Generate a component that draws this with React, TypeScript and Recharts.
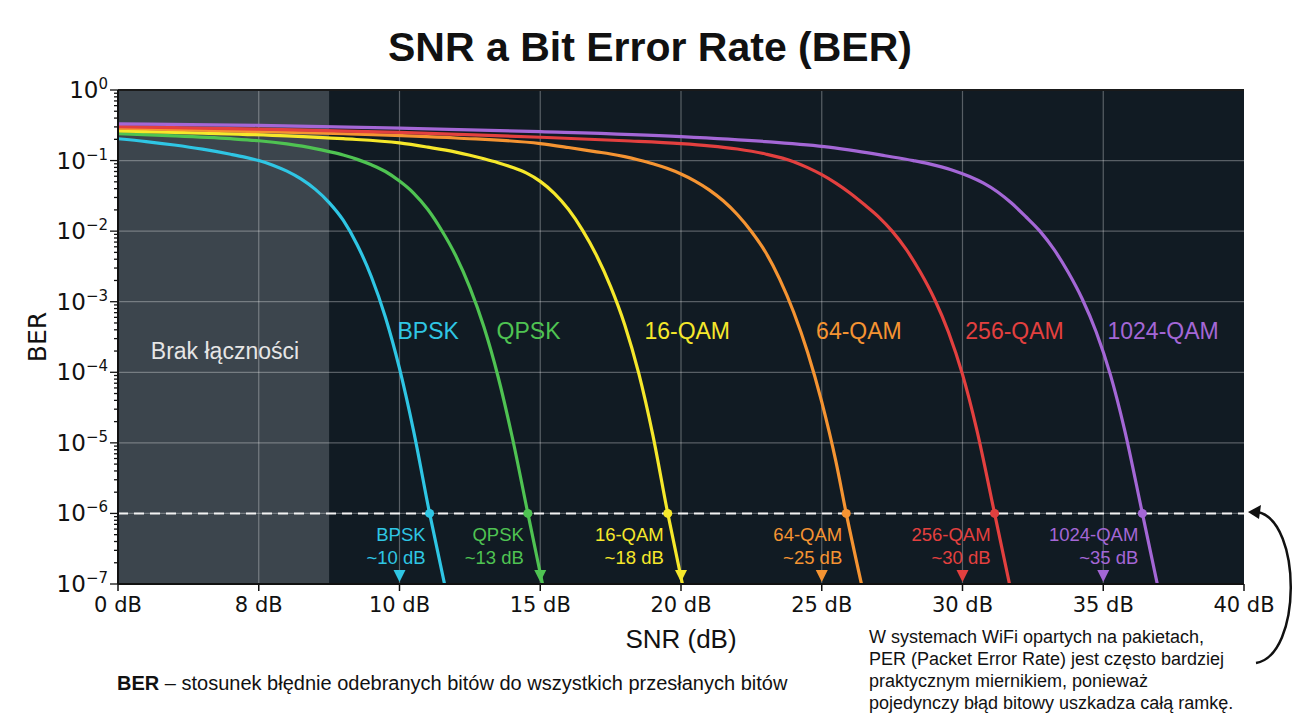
import * as React from 'react';
import { LineChart, Line, XAxis, YAxis, ReferenceLine, ReferenceArea, ReferenceDot } from 'recharts';

// x axis (SNR, dB) ticks and the labels printed under them
const snrTicks = [0, 5, 10, 15, 20, 25, 30, 35, 40];
const snrTickLabels = ['0 dB', '8 dB', '10 dB', '15 dB', '20 dB', '25 dB', '30 dB', '35 dB', '40 dB'];

// y axis decades (log scale)
const berDecades = [1, 1e-1, 1e-2, 1e-3, 1e-4, 1e-5, 1e-6, 1e-7];
const berMinor: number[] = [];
berDecades.slice(1).forEach((d) => {
  for (let k = 2; k <= 9; k++) berMinor.push(d * k);
});
const berTicks = [...berDecades, ...berMinor];

const modNames = ['BPSK', 'QPSK', '16-QAM', '64-QAM', '256-QAM', '1024-QAM'];
const modColors = ['#2fc6e4', '#4fc352', '#f6e82b', '#f59432', '#e3403f', '#a467d6'];

// curves: SNR (dB) -> BER
const bpskSnr = [0, 1, 2, 3, 4, 4.5, 5, 5.5, 6, 6.5, 7, 7.5, 8, 8.5, 9, 9.5, 10, 10.5, 11.07, 11.6];
const bpskBer = [0.204, 0.186, 0.166, 0.145, 0.123, 0.112, 0.1, 0.0861, 0.0708, 0.055, 0.0394, 0.0254, 0.0143, 6.38e-3, 2.26e-3, 6.03e-4, 1.135e-4, 1.48e-5, 1e-6, 1e-7];

const qpskSnr = [0, 2, 4, 5, 6, 7, 7.5, 8, 8.5, 9, 9.5, 10, 10.5, 11, 11.5, 12, 12.5, 13, 13.5, 14, 14.56, 15.08];
const qpskBer = [0.24, 0.224, 0.204, 0.191, 0.172, 0.148, 0.134, 0.12, 0.104, 0.0871, 0.07, 0.0513, 0.0347, 0.0204, 0.0102, 4.47e-3, 1.58e-3, 4.37e-4, 8.71e-5, 1.23e-5, 1e-6, 1e-7];

const qam16Snr = [0, 3, 6, 8, 10, 11, 12, 12.5, 13, 13.5, 14, 14.5, 15, 15.5, 16, 16.5, 17, 17.5, 18, 18.5, 19, 19.53, 20.05];
const qam16Ber = [0.263, 0.245, 0.224, 0.204, 0.178, 0.155, 0.132, 0.119, 0.106, 0.0933, 0.0804, 0.0668, 0.0507, 0.0343, 0.0204, 0.01035, 4.52e-3, 1.64e-3, 4.73e-4, 9.66e-5, 1.29e-5, 1e-6, 1e-7];

const qam64Snr = [0, 4, 8, 12, 15, 16, 17, 17.5, 18, 18.5, 19, 19.5, 20, 20.5, 21, 21.5, 22, 22.5, 23, 23.5, 24, 24.5, 25, 25.5, 25.87, 26.41];
const qam64Ber = [0.288, 0.263, 0.24, 0.209, 0.174, 0.153, 0.133, 0.124, 0.1135, 0.102, 0.0902, 0.0776, 0.0646, 0.0513, 0.0385, 0.0269, 0.0172, 9.89e-3, 5.07e-3, 2.11e-3, 7.16e-4, 1.91e-4, 3.8e-5, 5.5e-6, 1e-6, 1e-7];

const qam256Snr = [0, 5, 10, 15, 18, 20, 21, 22, 23, 24, 24.5, 25, 25.5, 26, 26.5, 27, 27.5, 28, 28.5, 29, 29.5, 30, 30.5, 31.14, 31.67];
const qam256Ber = [0.302, 0.279, 0.251, 0.214, 0.191, 0.174, 0.162, 0.146, 0.124, 0.0966, 0.0794, 0.0631, 0.0479, 0.0347, 0.024, 0.0162, 0.01, 5.5e-3, 2.63e-3, 1.1e-3, 3.72e-4, 9.33e-5, 1.58e-5, 1e-6, 1e-7];

const qam1024Snr = [0, 5, 10, 15, 20, 23, 25.25, 26.25, 27.25, 28.25, 28.75, 29.25, 29.75, 30.25, 30.75, 31.25, 31.75, 32.25, 32.75, 33.25, 33.75, 34.25, 34.75, 35.25, 35.75, 36.39, 36.92];
const qam1024Ber = [0.331, 0.316, 0.288, 0.257, 0.219, 0.186, 0.155, 0.136, 0.117, 0.1, 0.0912, 0.0813, 0.0708, 0.0596, 0.0479, 0.0359, 0.0248, 0.016, 0.01, 5.5e-3, 2.63e-3, 1.1e-3, 3.72e-4, 9.33e-5, 1.58e-5, 1e-6, 1e-7];

// where each curve crosses the 1e-6 target, and the marked "required" SNR
const targetBer = 1e-6;
const crossSnr = [11.07, 14.56, 19.53, 25.87, 31.14, 36.39];
const markSnr = [10, 15, 20, 25, 30, 35];
const markLabels = ['~10 dB', '~13 dB', '~18 dB', '~25 dB', '~30 dB', '~35 dB'];

// curve name labels in the middle of the plot
const nameLabelSnr = [9.93, 13.45, 18.7, 24.8, 30.1, 35.15];
const nameLabelBer = 3.85e-4;

const noLinkSnr = [0, 7.5];

const snrList = [bpskSnr, qpskSnr, qam16Snr, qam64Snr, qam256Snr, qam1024Snr];
const berList = [bpskBer, qpskBer, qam16Ber, qam64Ber, qam256Ber, qam1024Ber];
const series = modNames.map((name, i) => ({
  name,
  color: modColors[i],
  data: snrList[i].map((s, j) => ({ snr: s, ber: berList[i][j] })),
}));

const gridBer = berDecades.slice(1, -1);
const gridSnr = snrTicks.slice(1, -1);

const sans = 'Liberation Sans, Arial, sans-serif';
const dejavu = 'DejaVu Sans, sans-serif';

const YTick = (props: any) => {
  const { x, y, payload } = props;
  const lg = Math.log10(payload.value);
  const e = Math.round(lg);
  const major = Math.abs(lg - e) < 1e-6;
  return (
    <g>
      <line x1={x} x2={x - (major ? 8 : 4)} y1={y} y2={y} stroke="#111" strokeWidth={1.3} />
      {major && (
        <text x={x - 10} y={y} textAnchor="end" dominantBaseline="central" fontFamily={dejavu} fontSize={23} fill="#111">
          10<tspan dy={-6} fontSize={15}>{e === 0 ? '0' : '\u2212' + -e}</tspan>
        </text>
      )}
    </g>
  );
};

const App = () => {
  return (
    <div style={{ position: 'absolute', left: 0, top: 0, width: 1300, height: 726, background: '#fff' }}>
      <LineChart width={1300} height={726} margin={{ top: 90, right: 56, bottom: 112, left: 58 }}>
        <XAxis
          dataKey="snr"
          type="number"
          domain={[0, 40]}
          ticks={snrTicks}
          interval={0}
          allowDataOverflow
          tickFormatter={(v: number) => snrTickLabels[snrTicks.indexOf(v)]}
          axisLine={{ stroke: '#111', strokeWidth: 2 }}
          tickLine={{ stroke: '#111', strokeWidth: 1.5 }}
          tickSize={7}
          tickMargin={6}
          tick={{ fontSize: 21, fill: '#111', fontFamily: dejavu }}
          height={30}
        />
        <YAxis
          type="number"
          scale="log"
          domain={[1e-7, 1]}
          ticks={berTicks}
          interval={0}
          allowDataOverflow
          tick={(p: any) => <YTick {...p} />}
          tickLine={false}
          tickSize={0}
          tickMargin={0}
          axisLine={{ stroke: '#111', strokeWidth: 2 }}
          width={60}
        />
        <ReferenceArea x1={0} x2={40} y1={1e-7} y2={1} fill="#111b23" fillOpacity={1} stroke="none" ifOverflow="visible" />
        <ReferenceArea x1={noLinkSnr[0]} x2={noLinkSnr[1]} y1={1e-7} y2={1} fill="#3c454d" fillOpacity={1} stroke="none" ifOverflow="visible" />
        {gridBer.map((v) => (
          <ReferenceLine key={'gy' + v} y={v} stroke="#ffffff" strokeOpacity={0.3} strokeWidth={1.2} />
        ))}
        {gridSnr.map((v) => (
          <ReferenceLine key={'gx' + v} x={v} stroke="#ffffff" strokeOpacity={0.3} strokeWidth={1.2} />
        ))}
        <ReferenceLine y={1} stroke="#1a1a1a" strokeWidth={2} />
        <ReferenceDot
          x={3.8}
          y={2e-4}
          ifOverflow="visible"
          shape={(p: any) => (
            <text x={p.cx} y={p.cy} textAnchor="middle" dominantBaseline="central" fontFamily={sans} fontSize={23} fill="#e6e6e6">
              Brak łączności
            </text>
          )}
        />
        {series.map((s) => (
          <Line
            key={s.name}
            data={s.data}
            dataKey="ber"
            name={s.name}
            type="monotone"
            stroke={s.color}
            strokeWidth={3.2}
            dot={false}
            activeDot={false}
            isAnimationActive={false}
          />
        ))}
        <ReferenceLine y={targetBer} stroke="#f2f2f2" strokeDasharray="10 6" strokeWidth={2} />
        {series.map((s, i) => (
          <ReferenceDot
            key={'name' + i}
            x={nameLabelSnr[i]}
            y={nameLabelBer}
            ifOverflow="visible"
            shape={(p: any) => (
              <text x={p.cx} y={p.cy} textAnchor="start" dominantBaseline="central" fontFamily={sans} fontSize={23} fill={s.color}>
                {s.name}
              </text>
            )}
          />
        ))}
        {series.map((s, i) => (
          <ReferenceDot
            key={'cross' + i}
            x={crossSnr[i]}
            y={targetBer}
            ifOverflow="visible"
            shape={(p: any) => (
              <g>
                <circle cx={p.cx} cy={p.cy} r={4.5} fill={s.color} />
                <text x={p.cx - 4} y={p.cy + 21} textAnchor="end" dominantBaseline="central" fontFamily={sans} fontSize={18.5} fill={s.color}>
                  {s.name}
                </text>
                <text x={p.cx - 4} y={p.cy + 44} textAnchor="end" dominantBaseline="central" fontFamily={sans} fontSize={18.5} fill={s.color}>
                  {markLabels[i]}
                </text>
              </g>
            )}
          />
        ))}
        {series.map((s, i) => (
          <ReferenceDot
            key={'mark' + i}
            x={markSnr[i]}
            y={1e-7}
            ifOverflow="visible"
            shape={(p: any) => (
              <polygon
                points={`${p.cx - 6},${p.cy - 14} ${p.cx + 6},${p.cy - 14} ${p.cx},${p.cy - 2}`}
                fill={s.color}
              />
            )}
          />
        ))}
      </LineChart>
      <svg width={1300} height={726} style={{ position: 'absolute', left: 0, top: 0, pointerEvents: 'none' }}>
        <text x={650} y={61} textAnchor="middle" fontFamily={sans} fontWeight="bold" fontSize={41} fill="#111">
          SNR a Bit Error Rate (BER)
        </text>
        <text
          x={37}
          y={337}
          textAnchor="middle"
          dominantBaseline="central"
          fontFamily={dejavu}
          fontSize={25}
          fill="#111"
          transform="rotate(-90, 37, 337)"
        >
          BER
        </text>
        <text x={681} y={648} textAnchor="middle" fontFamily={sans} fontSize={26} fill="#111">
          SNR (dB)
        </text>
        <text x={117} y={690} fontFamily={sans} fontSize={20} fill="#111">
          <tspan fontWeight="bold">BER</tspan> – stosunek błędnie odebranych bitów do wszystkich przesłanych bitów
        </text>
        <text fontFamily={sans} fontSize={18} fill="#111">
          <tspan x={869} y={643}>W systemach WiFi opartych na pakietach,</tspan>
          <tspan x={869} y={665}>PER (Packet Error Rate) jest często bardziej</tspan>
          <tspan x={869} y={687}>praktycznym miernikiem, ponieważ</tspan>
          <tspan x={869} y={709}>pojedynczy błąd bitowy uszkadza całą ramkę.</tspan>
        </text>
        <path d="M 1256 663 C 1302 655, 1302 522, 1258 512" fill="none" stroke="#111" strokeWidth={2.5} />
        <polygon points="1248,512 1261,505 1259,519" fill="#111" />
      </svg>
    </div>
  );
};

export default App;
